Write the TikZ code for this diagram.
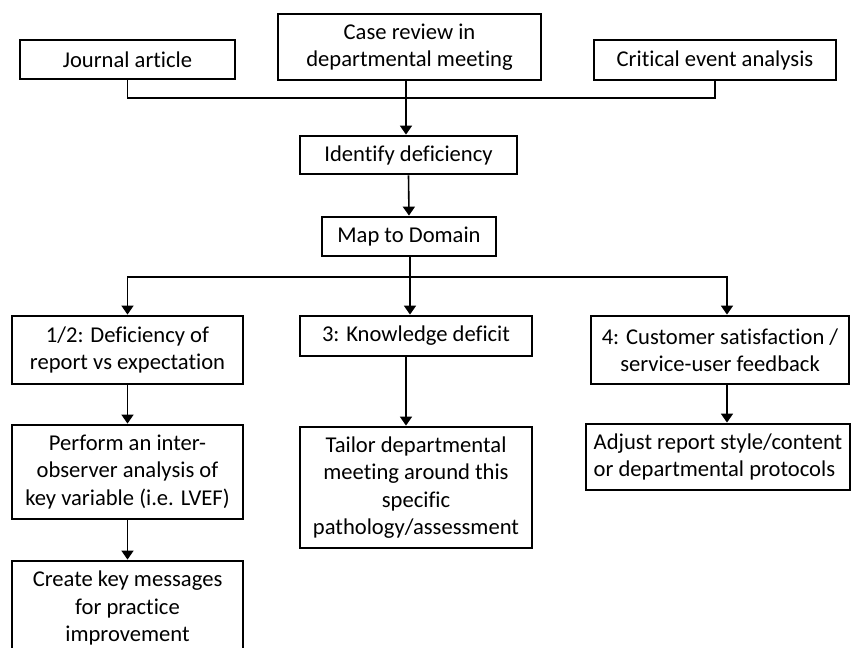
\documentclass[tikz,border=0pt]{standalone}
\usepackage{fontspec}
\setmainfont[Ligatures=NoCommon]{Carlito}
\usetikzlibrary{arrows.meta}
\tikzset{
    box/.style={draw, line width=2.8pt, rectangle, align=center, inner sep=2pt,
        font=\fontsize{22.6}{27.5}\selectfont},
    link/.style={line width=1.6pt},
    arrow/.style={link, -{Triangle[width=12pt,length=9pt]}}
}
\begin{document}
\begin{tikzpicture}[x=1pt, y=-1pt]
            \useasboundingbox (0, 0) rectangle (852, 648);
            \clip (0, 0) rectangle (852, 648);
            %riquadri
            \node[box, minimum width=215, minimum height=39] (journal) at (127.5, 59.5) {Journal article};
            \node[box, minimum width=263, minimum height=66] (casereview) at (409.5, 47) {Case review in\\departmental meeting};
            \node[box, minimum width=242, minimum height=40] (critical) at (715, 60) {Critical event analysis};
            \node[box, minimum width=217, minimum height=38] (identify) at (408.5, 155) {Identify deficiency};
            \node[box, minimum width=174, minimum height=39] (mapdomain) at (409, 236.5) {Map to Domain};
            \node[box, minimum width=231, minimum height=68] (deficiency) at (127.5, 350) {1/2: Deficiency of\\report vs expectation};
            \node[box, minimum width=232, minimum height=40] (knowledge) at (416, 336) {3: Knowledge deficit};
            \node[box, minimum width=258, minimum height=68] (customer) at (720, 350) {4: Customer satisfaction /\\service-user feedback};
            \node[box, minimum width=231, minimum height=94] (perform) at (127.5, 472) {Perform an inter-\\observer analysis of\\key variable (i.e. LVEF)};
            \node[box, minimum width=232, minimum height=121] (tailor) at (416, 487.5) {Tailor departmental\\meeting around this\\specific\\pathology/assessment};
            \node[box, align=left, minimum width=264, minimum height=66] (adjust) at (718, 457) {Adjust report style/content\\or departmental protocols};
            \node[box, minimum width=231, minimum height=94] (create) at (127.5, 608) {Create key messages\\for practice\\improvement};
            %collegamenti
            \coordinate (join) at (406, 98);
            \coordinate (split) at (410, 277);
            \draw[link] (journal.south) |- (join) -| (critical.south);
            \draw[arrow] (casereview.south -| join) -- (identify.north -| join);
            \draw[arrow] (identify.south) -- (mapdomain.north);
            \draw[link] (mapdomain.south -| split) -- (split);
            \draw[arrow] (split) -| (deficiency.north);
            \draw[arrow] (split) -- (knowledge.north -| split);
            \draw[arrow] (split) -| ([xshift=7pt]customer.north);
            \draw[arrow] (knowledge.south -| join) -- (tailor.north -| join);
            \draw[arrow] ([xshift=7pt]customer.south) -- ([xshift=9pt]adjust.north);
            \draw[arrow] (deficiency.south) -- (perform.north);
            \draw[arrow] (perform.south) -- (create.north);
        \end{tikzpicture}
\end{document}
